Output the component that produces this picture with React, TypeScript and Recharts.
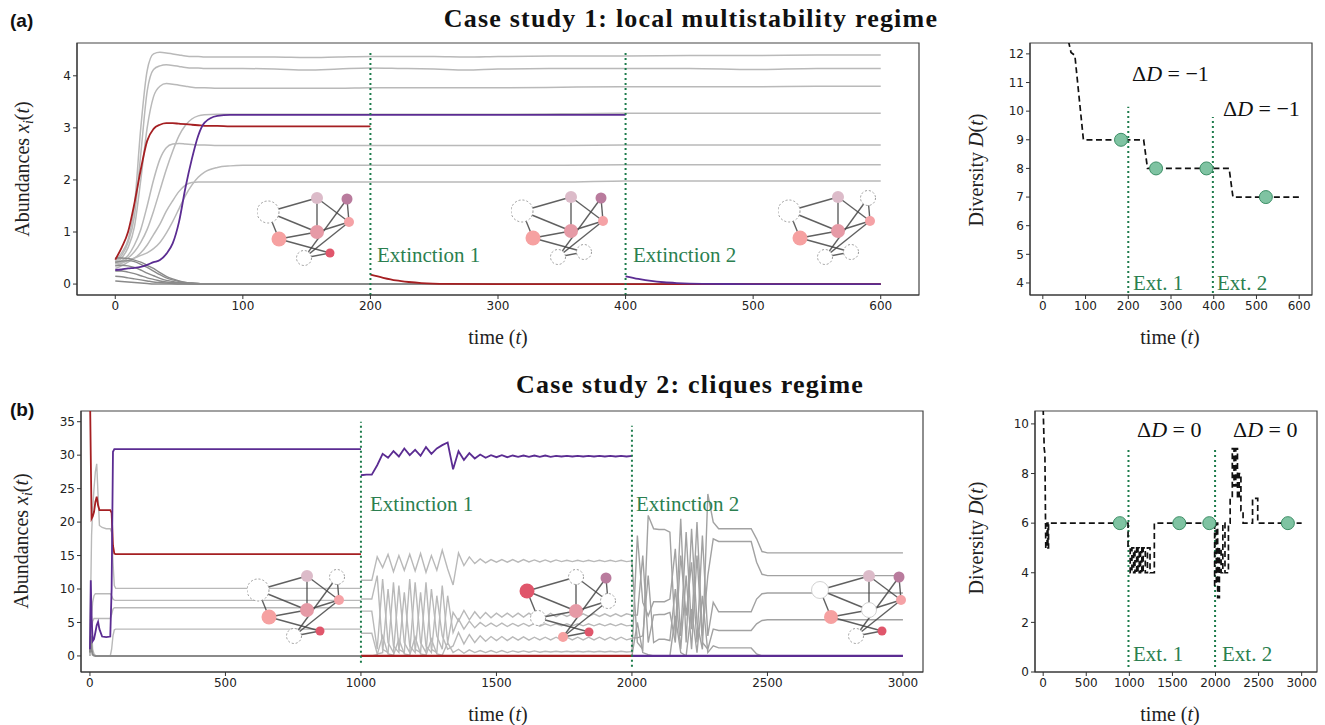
import React from 'react';
import { ComposedChart, Line, Scatter, XAxis, YAxis, ReferenceLine, ReferenceArea } from 'recharts';

const GRAY = '#b9b9b9';
const MID_GRAY = '#a2a2a2';
const DARK_GRAY = '#8a8a8a';
const RED = '#a51f22';
const PURPLE = '#5b2c92';
const GREEN = '#1e7c4c';
const GREEN_TEXT = '#2b7f50';
const SERIF = 'Liberation Serif, serif';

// ---------- case study 1, abundances ----------
const tA = [0, 5, 10, 15, 20, 25, 30, 35, 40, 45, 50, 55, 60, 65, 70, 80, 90, 100, 125, 150, 175, 200, 225, 250, 275, 300, 350, 400, 450, 500, 550, 600];
const aTop = [0.45, 0.6, 0.85, 1.5, 3.0, 4.1, 4.42, 4.45, 4.44, 4.42, 4.4, 4.38, 4.37, 4.37, 4.36, 4.36, 4.36, 4.36, 4.36, 4.35, 4.36, 4.37, 4.37, 4.37, 4.36, 4.37, 4.38, 4.38, 4.39, 4.39, 4.4, 4.4];
const aSecond = [0.42, 0.55, 0.8, 1.3, 2.5, 3.7, 4.12, 4.19, 4.21, 4.2, 4.18, 4.16, 4.15, 4.15, 4.14, 4.14, 4.14, 4.14, 4.13, 4.11, 4.13, 4.15, 4.14, 4.13, 4.11, 4.13, 4.14, 4.14, 4.14, 4.12, 4.14, 4.14];
const aThird = [0.4, 0.5, 0.7, 1.1, 2.0, 3.0, 3.6, 3.8, 3.85, 3.84, 3.82, 3.8, 3.78, 3.77, 3.77, 3.76, 3.76, 3.76, 3.76, 3.76, 3.76, 3.77, 3.77, 3.77, 3.77, 3.77, 3.78, 3.79, 3.79, 3.79, 3.8, 3.8];
const aG325 = [0.38, 0.42, 0.5, 0.62, 0.8, 1.05, 1.4, 1.8, 2.2, 2.55, 2.85, 3.05, 3.17, 3.23, 3.25, 3.26, 3.26, 3.26, 3.26, 3.26, 3.26, 3.26, 3.26, 3.26, 3.26, 3.26, 3.27, 3.28, 3.28, 3.28, 3.28, 3.28];
const aG267 = [0.4, 0.45, 0.55, 0.75, 1.05, 1.5, 2.0, 2.4, 2.62, 2.69, 2.7, 2.69, 2.68, 2.67, 2.67, 2.66, 2.66, 2.66, 2.66, 2.66, 2.66, 2.66, 2.66, 2.66, 2.66, 2.66, 2.66, 2.67, 2.67, 2.67, 2.67, 2.67];
const aG227 = [0.35, 0.4, 0.45, 0.5, 0.55, 0.6, 0.68, 0.8, 0.98, 1.2, 1.45, 1.7, 1.9, 2.05, 2.15, 2.24, 2.27, 2.28, 2.28, 2.28, 2.28, 2.28, 2.28, 2.28, 2.28, 2.28, 2.28, 2.29, 2.29, 2.29, 2.29, 2.29];
const aG196 = [0.3, 0.35, 0.42, 0.5, 0.6, 0.75, 0.95, 1.15, 1.4, 1.6, 1.78, 1.9, 1.95, 1.96, 1.96, 1.96, 1.96, 1.96, 1.96, 1.96, 1.96, 1.96, 1.96, 1.96, 1.96, 1.96, 1.96, 1.98, 1.98, 1.98, 1.98, 1.98];

const tAz = [0, 5, 10, 15, 20, 25, 30, 35, 40, 45, 50, 55, 60, 65, 70, 80, 90, 100, 600];
const aZero1 = [0.5, 0.5, 0.49, 0.46, 0.42, 0.36, 0.3, 0.22, 0.15, 0.1, 0.06, 0.03, 0.02, 0.01, 0, 0, 0, 0, 0];
const aZero2 = [0.42, 0.44, 0.45, 0.43, 0.38, 0.32, 0.25, 0.18, 0.12, 0.08, 0.05, 0.03, 0.02, 0.01, 0, 0, 0, 0, 0];
const aZero3 = [0.35, 0.36, 0.35, 0.32, 0.27, 0.21, 0.16, 0.11, 0.07, 0.05, 0.03, 0.02, 0.01, 0, 0, 0, 0, 0, 0];
const aZero4 = [0.25, 0.25, 0.23, 0.2, 0.16, 0.12, 0.09, 0.06, 0.04, 0.03, 0.02, 0.01, 0, 0, 0, 0, 0, 0, 0];
const aZero5 = [0.15, 0.14, 0.12, 0.1, 0.08, 0.06, 0.04, 0.03, 0.02, 0.01, 0, 0, 0, 0, 0, 0, 0, 0, 0];
const aZero6 = [0.06, 0.05, 0.04, 0.03, 0.02, 0.01, 0, 0, 0, 0, 0, 0, 0, 0, 0, 0, 0, 0, 0];

const tARed1 = [0, 5, 10, 15, 20, 25, 30, 35, 40, 45, 50, 55, 60, 65, 70, 80, 90, 100, 125, 150, 175, 200];
const aRed1 = [0.47, 0.7, 1.0, 1.55, 2.2, 2.75, 2.98, 3.06, 3.09, 3.09, 3.08, 3.07, 3.06, 3.05, 3.04, 3.04, 3.03, 3.03, 3.03, 3.03, 3.03, 3.03];
const tARed2 = [200, 210, 220, 230, 240, 260, 300, 400, 600];
const aRed2 = [0.18, 0.12, 0.07, 0.04, 0.02, 0.005, 0, 0, 0];
const tAPur1 = [0, 5, 10, 15, 20, 25, 30, 35, 40, 45, 50, 55, 60, 65, 70, 80, 90, 100, 200, 300, 400];
const aPur1 = [0.27, 0.28, 0.3, 0.31, 0.33, 0.37, 0.42, 0.46, 0.58, 0.78, 1.2, 1.85, 2.4, 2.85, 3.1, 3.23, 3.25, 3.25, 3.25, 3.25, 3.25];
const tAPur2 = [400, 410, 420, 430, 440, 460, 500, 600];
const aPur2 = [0.15, 0.1, 0.06, 0.035, 0.02, 0.005, 0, 0];

// ---------- case study 1, diversity ----------
const aDivT = [60, 66, 75, 95, 236, 245, 436, 445, 600];
const aDivV = [12.45, 12.05, 11.95, 9.0, 9.0, 8.0, 8.0, 7.0, 7.0];
const aCircT = [183, 265, 383, 522];
const aCircV = [9, 8, 8, 7];

// ---------- case study 2, abundances ----------
const tB1 = [0, 3, 6, 10, 15, 20, 25, 30, 35, 45, 60, 75, 80, 85, 90, 95, 100, 300, 500, 700, 900, 1000];
const bRed1 = [40, 30, 20.5, 20.8, 21.5, 23.0, 23.8, 22.5, 21.8, 21.8, 21.8, 21.8, 21.4, 16.5, 15.3, 15.2, 15.2, 15.2, 15.2, 15.2, 15.2, 15.2];
const bPur1 = [1.0, 11.3, 6.0, 2.2, 2.5, 3.5, 4.6, 5.1, 4.0, 2.9, 2.8, 2.9, 10.0, 30.5, 30.9, 30.9, 30.9, 30.9, 30.9, 30.9, 30.9, 30.9];
const bG1 = [0, 10, 18, 22, 25, 27.5, 28.7, 24, 19.5, 19.2, 19.0, 19.0, 18.5, 14.0, 10.5, 10.1, 10.1, 10.1, 10.1, 10.1, 10.1, 10.1];
const bG2 = [0, 3, 6, 8, 9, 9.3, 9.3, 9.3, 9.3, 9.3, 9.3, 9.3, 9.0, 8.5, 8.35, 8.3, 8.3, 8.3, 8.3, 8.3, 8.3, 8.3];
const bG3 = [0, 2, 4, 5.2, 5.6, 5.6, 5.6, 5.6, 5.6, 5.6, 5.6, 5.6, 6.2, 7.0, 7.2, 7.2, 7.2, 7.2, 7.2, 7.2, 7.2, 7.2];
const bG4 = [0, 8, 4, 1, 0.3, 0.1, 0, 0, 0, 0, 0, 0, 1.0, 3.0, 3.9, 4.0, 4.0, 4.0, 4.0, 4.0, 4.0, 4.0];
const bZero1 = [0.5, 3, 1, 0.2, 0.05, 0, 0, 0, 0, 0, 0, 0, 0, 0, 0, 0, 0, 0, 0, 0, 0, 0];

const tB2 = [1000, 1020, 1040, 1060, 1080, 1100, 1120, 1140, 1160, 1180,
  1200, 1220, 1240, 1260, 1280, 1300, 1320, 1340, 1360, 1380,
  1400, 1420, 1440, 1460, 1480, 1500, 1520, 1540, 1560, 1580,
  1600, 1620, 1640, 1660, 1680, 1700, 1720, 1740, 1760, 1780,
  1800, 1820, 1840, 1860, 1880, 1900, 1920, 1940, 1960, 1980, 2000];
const bPur2 = [27.0, 27.1, 27.1, 28.5, 30.2, 29.6, 30.6, 29.8, 31.0, 30.0,
  30.8, 29.9, 31.2, 30.2, 31.0, 31.5, 31.9, 27.9, 30.6, 29.3,
  30.3, 29.5, 30.1, 29.6, 30.0, 29.7, 30.0, 29.7, 29.95, 29.75,
  29.95, 29.75, 29.95, 29.75, 29.95, 29.75, 29.9, 29.8, 29.9, 29.8,
  29.9, 29.8, 29.9, 29.8, 29.9, 29.8, 29.9, 29.8, 29.9, 29.8, 29.9];
const bH1 = [11.3, 11.3, 11.3, 14.8, 13.2, 15.2, 12.6, 15.0, 12.8, 15.2,
  12.7, 15.3, 12.5, 15.0, 12.8, 15.8, 13.0, 10.6, 15.4, 13.5,
  14.8, 13.8, 14.5, 13.9, 14.4, 14.0, 14.4, 14.0, 14.4, 14.0,
  14.4, 14.05, 14.35, 14.05, 14.35, 14.05, 14.35, 14.1, 14.3, 14.1,
  14.3, 14.1, 14.3, 14.1, 14.3, 14.1, 14.3, 14.1, 14.3, 14.1, 14.2];
const bS1 = [8.5, 8.5, 8.5, 12.0, 1.0, 0.5, 11.0, 1.0, 0.5, 11.5,
  1.0, 0.5, 11.0, 1.0, 0.5, 10.5, 2.0, 6.5, 5.2, 6.8,
  5.4, 6.6, 5.6, 6.5, 5.7, 6.4, 5.8, 6.4, 5.8, 6.4,
  5.8, 6.4, 5.8, 6.35, 5.85, 6.35, 5.85, 6.3, 5.9, 6.3,
  5.9, 6.3, 5.9, 6.3, 5.9, 6.3, 5.9, 6.3, 5.9, 6.3, 6.1];
const bS2 = [6.7, 6.7, 6.7, 1.0, 11.5, 2.0, 0.5, 10.5, 2.0, 0.5,
  11.0, 2.0, 0.5, 10.0, 3.0, 1.0, 9.0, 3.5, 5.5, 4.0,
  5.2, 4.2, 5.0, 4.4, 4.9, 4.4, 4.9, 4.4, 4.85, 4.45,
  4.85, 4.45, 4.85, 4.45, 4.8, 4.5, 4.8, 4.5, 4.8, 4.5,
  4.8, 4.5, 4.8, 4.5, 4.8, 4.5, 4.8, 4.5, 4.8, 4.5, 4.6];
const bS3 = [3.4, 3.4, 3.4, 0.3, 0.5, 10.0, 1.5, 0.5, 9.5, 1.5,
  0.5, 9.5, 1.5, 0.5, 9.0, 3.0, 1.0, 1.5, 3.5, 1.8,
  3.2, 2.0, 3.0, 2.2, 2.9, 2.3, 2.9, 2.3, 2.85, 2.35,
  2.85, 2.35, 2.8, 2.4, 2.8, 2.4, 2.8, 2.4, 2.8, 2.4,
  2.8, 2.4, 2.8, 2.4, 2.8, 2.4, 2.8, 2.4, 2.8, 2.4, 2.6];
const bS4 = [0, 0, 0, 0.2, 3.0, 0.3, 0.1, 2.5, 0.3, 0.1,
  2.8, 0.3, 0.1, 2.5, 0.3, 0.1, 2.0, 0.5, 1.0, 0.4,
  0.9, 0.5, 0.8, 0.5, 0.8, 0.5, 0.8, 0.5, 0.75, 0.55,
  0.75, 0.55, 0.75, 0.55, 0.7, 0.6, 0.7, 0.6, 0.7, 0.6,
  0.7, 0.6, 0.7, 0.6, 0.7, 0.6, 0.7, 0.6, 0.7, 0.6, 0.65];

const tB3 = [2000, 2020, 2040, 2060, 2080, 2100, 2120, 2140, 2160, 2180,
  2200, 2220, 2240, 2260, 2280, 2300, 2320, 2340, 2360, 2380,
  2400, 2420, 2440, 2460, 2480, 2500, 2600, 2700, 2800, 2900, 3000];
const bP1 = [14.1, 2.0, 1.0, 21.0, 19.0, 18.9, 18.9, 18.5, 3.0, 20.5,
  2.0, 19.0, 5.0, 1.0, 24.2, 20.0, 19.0, 19.0, 19.0, 19.0,
  19.0, 19.0, 19.0, 17.5, 15.6, 15.4, 15.4, 15.4, 15.4, 15.4, 15.4];
const bP2 = [0.5, 18.0, 8.0, 6.0, 8.1, 8.1, 8.1, 8.5, 16.0, 3.0,
  18.5, 4.0, 20.0, 3.0, 12.0, 17.5, 17.1, 17.1, 17.1, 17.1,
  17.1, 17.1, 17.1, 14.0, 12.2, 12.0, 12.0, 12.0, 12.0, 12.0, 12.0];
const bP3 = [6.1, 6.1, 15.0, 2.0, 6.1, 6.2, 6.2, 6.5, 2.0, 15.0,
  6.0, 14.0, 2.0, 18.0, 3.0, 8.0, 6.6, 6.6, 6.6, 6.6,
  6.6, 6.6, 6.6, 8.5, 9.3, 9.4, 9.4, 9.4, 9.4, 9.4, 9.4];
const bP4 = [2.7, 2.7, 3.0, 12.0, 2.0, 2.5, 2.5, 2.3, 10.0, 1.0,
  12.0, 1.0, 15.0, 2.0, 1.0, 4.0, 3.8, 3.8, 3.8, 3.8,
  3.8, 3.8, 3.8, 4.8, 5.3, 5.4, 5.4, 5.4, 5.4, 5.4, 5.4];
const bP5 = [0, 5.0, 0.5, 0.2, 0, 0, 0, 0, 6.0, 0.5,
  0, 7.0, 0.5, 9.0, 0.5, 1.5, 1.2, 1.2, 1.2, 1.2,
  1.2, 1.2, 1.2, 0.3, 0, 0, 0, 0, 0, 0, 0];

const tBRed2 = [1000, 2000];
const bRed2 = [0, 0];
const tBPur3 = [2000, 3000];
const bPur3 = [0, 0];

// ---------- case study 2, diversity ----------
const bDivSteps: [number, number][] = [
  [0, 10.6], [12, 9.0], [20, 8.8], [30, 5.0], [45, 5.0], [45, 6.0], [55, 6.0], [55, 5.0], [62, 5.0], [62, 6.0],
  [985, 6.0], [985, 5.0], [1010, 5.0], [1010, 4.0], [1030, 4.0], [1030, 5.0], [1050, 5.0], [1050, 4.0],
  [1065, 4.0], [1065, 5.0], [1085, 5.0], [1085, 4.0], [1100, 4.0], [1100, 5.0], [1115, 5.0], [1115, 4.0],
  [1130, 4.0], [1130, 5.0], [1145, 5.0], [1145, 4.0], [1160, 4.0], [1160, 5.0], [1185, 5.0], [1185, 4.0],
  [1210, 4.0], [1210, 5.0], [1240, 5.0], [1240, 4.0], [1290, 4.0], [1290, 6.0],
  [1990, 6.0], [1990, 3.5], [2010, 3.5], [2010, 6.0], [2025, 6.0], [2025, 3.0], [2045, 3.0], [2045, 5.0],
  [2065, 5.0], [2065, 4.0], [2085, 4.0], [2085, 6.0], [2110, 6.0], [2110, 4.0], [2150, 4.0], [2150, 6.0],
  [2170, 6.0], [2170, 7.0], [2195, 7.0], [2195, 9.0], [2215, 9.0], [2215, 7.5], [2235, 7.5], [2235, 9.0],
  [2255, 9.0], [2255, 7.0], [2275, 7.0], [2275, 8.0], [2295, 8.0], [2295, 6.5], [2320, 6.5], [2320, 6.0],
  [2430, 6.0], [2430, 7.0], [2490, 7.0], [2490, 6.0], [3000, 6.0],
];
const bCircT = [890, 1580, 1928, 2840];
const bCircV = [6, 6, 6, 6];

// ---------- network insets ----------
const nodeX = [11, 60, 90, 92, 60, 22, 47, 73];
const nodeY = [26, 12, 13, 36, 46, 53, 72, 67];
const edges = [[0, 1], [0, 4], [0, 5], [1, 4], [1, 3], [2, 3], [2, 6], [4, 3], [5, 4], [5, 7], [6, 7], [6, 3]];
const PINK_L = '#dcbbc9';
const MAUVE = '#b97b9d';
const PINK = '#f5a2a6';
const PINK_M = '#e69aa6';
const SALMON = '#f6a1a1';
const RED_N = '#e0566b';
const insetA1 = ['empty', PINK_L, MAUVE, PINK, PINK_M, SALMON, 'empty', RED_N];
const insetA2 = ['empty', PINK_L, MAUVE, PINK, PINK_M, SALMON, 'empty', 'empty'];
const insetA3 = ['empty', PINK_L, 'empty', PINK, PINK_M, SALMON, 'empty', 'empty'];
const insetB1 = ['empty', PINK_L, 'empty', PINK, PINK_M, SALMON, 'empty', RED_N];
const insetB2 = [RED_N, 'empty', MAUVE, 'empty', PINK_M, 'empty', SALMON, RED_N];
const insetB3 = ['white', PINK_L, MAUVE, PINK, 'white', SALMON, 'empty', RED_N];
const radA1 = [11, 6, 5.5, 5, 7, 7.5, 7.5, 4.5];
const radA2 = [11, 6, 5.5, 5, 7, 7.5, 7.5, 7.5];
const radA3 = [11, 6, 7.5, 5, 7, 7.5, 7.5, 7.5];
const radB1 = [11, 6, 7.5, 5, 7, 7.5, 7.5, 4.5];
const radB2 = [7.5, 7.5, 5.5, 7.5, 7, 7.5, 5, 4.5];
const radB3 = [8.5, 6, 5.5, 5, 7.5, 7, 7.5, 4.5];

const pts = (ts: number[], vs: number[]) => ts.map((t, i) => ({ t, v: vs[i] }));

const tickStyle = { fontSize: 12, fill: '#222', fontFamily: 'DejaVu Sans, sans-serif' };

const greenDot = (p: any) => (
  <circle cx={p.cx} cy={p.cy} r={6.5} fill="#7fc3a2" stroke="#3d8f67" strokeWidth={1} />
);

const nodeShape = (p: any) => {
  const { cx, cy, payload } = p;
  if (payload.col === 'empty') {
    return <circle cx={cx} cy={cy} r={payload.r} fill="#fff" stroke="#9a9a9a" strokeWidth={1} strokeDasharray="2 2" />;
  }
  if (payload.col === 'white') {
    return <circle cx={cx} cy={cy} r={payload.r} fill="#fff" stroke="#d2d2d2" strokeWidth={1} />;
  }
  return <circle cx={cx} cy={cy} r={payload.r} fill={payload.col} />;
};

function Inset({ left, top, cols, radii }: { left: number; top: number; cols: string[]; radii: number[] }) {
  const nodes = nodeX.map((x, i) => ({ x, y: nodeY[i], col: cols[i], r: radii[i] }));
  return (
    <div style={{ position: 'absolute', left, top }}>
      <ComposedChart width={104} height={86} margin={{ top: 0, right: 0, bottom: 0, left: 0 }}>
        <XAxis type="number" dataKey="x" domain={[0, 104]} hide />
        <YAxis type="number" dataKey="y" domain={[0, 86]} reversed hide />
        {edges.map(([a, b], k) => (
          <Line
            key={k}
            data={[{ x: nodeX[a], y: nodeY[a] }, { x: nodeX[b], y: nodeY[b] }]}
            dataKey="y"
            stroke="#444"
            strokeWidth={1.4}
            strokeOpacity={0.85}
            dot={false}
            isAnimationActive={false}
          />
        ))}
        <Scatter data={nodes} dataKey="y" shape={nodeShape} isAnimationActive={false} />
      </ComposedChart>
    </div>
  );
}

type Series = { t: number[]; v: number[]; color: string; w: number };

const aSeries: Series[] = [
  { t: tA, v: aTop, color: GRAY, w: 1.5 },
  { t: tA, v: aSecond, color: GRAY, w: 1.5 },
  { t: tA, v: aThird, color: GRAY, w: 1.5 },
  { t: tA, v: aG325, color: GRAY, w: 1.5 },
  { t: tA, v: aG267, color: GRAY, w: 1.5 },
  { t: tA, v: aG227, color: GRAY, w: 1.5 },
  { t: tA, v: aG196, color: GRAY, w: 1.5 },
  { t: tAz, v: aZero1, color: DARK_GRAY, w: 1.4 },
  { t: tAz, v: aZero2, color: DARK_GRAY, w: 1.4 },
  { t: tAz, v: aZero3, color: DARK_GRAY, w: 1.4 },
  { t: tAz, v: aZero4, color: DARK_GRAY, w: 1.4 },
  { t: tAz, v: aZero5, color: DARK_GRAY, w: 1.4 },
  { t: tAz, v: aZero6, color: DARK_GRAY, w: 1.4 },
  { t: tARed1, v: aRed1, color: RED, w: 1.8 },
  { t: tARed2, v: aRed2, color: RED, w: 1.8 },
  { t: tAPur1, v: aPur1, color: PURPLE, w: 1.8 },
  { t: tAPur2, v: aPur2, color: PURPLE, w: 1.8 },
];

const bSeries: Series[] = [
  { t: tB1, v: bG1, color: GRAY, w: 1.4 },
  { t: tB1, v: bG2, color: GRAY, w: 1.4 },
  { t: tB1, v: bG3, color: GRAY, w: 1.4 },
  { t: tB1, v: bG4, color: GRAY, w: 1.4 },
  { t: tB1, v: bZero1, color: DARK_GRAY, w: 2 },
  { t: tB2, v: bH1, color: GRAY, w: 1.4 },
  { t: tB2, v: bS1, color: GRAY, w: 1.4 },
  { t: tB2, v: bS2, color: GRAY, w: 1.4 },
  { t: tB2, v: bS3, color: GRAY, w: 1.4 },
  { t: tB2, v: bS4, color: GRAY, w: 1.4 },
  { t: tB3, v: bP1, color: MID_GRAY, w: 1.4 },
  { t: tB3, v: bP2, color: MID_GRAY, w: 1.4 },
  { t: tB3, v: bP3, color: MID_GRAY, w: 1.4 },
  { t: tB3, v: bP4, color: MID_GRAY, w: 1.4 },
  { t: tB3, v: bP5, color: MID_GRAY, w: 1.4 },
  { t: tB1, v: bRed1, color: RED, w: 1.8 },
  { t: tBRed2, v: bRed2, color: RED, w: 2.2 },
  { t: tB1, v: bPur1, color: PURPLE, w: 1.8 },
  { t: tB2, v: bPur2, color: PURPLE, w: 1.8 },
  { t: tBPur3, v: bPur3, color: PURPLE, w: 2.2 },
];

const greenSeg = (x: number, y1: number, y2: number, key: string) => (
  <ReferenceLine
    key={key}
    segment={[{ x, y: y1 }, { x, y: y2 }]}
    stroke={GREEN}
    strokeWidth={2}
    strokeDasharray="2 3"
    ifOverflow="visible"
  />
);

const frame = (x: number[], y: number[]) => (
  <ReferenceArea x1={x[0]} x2={x[1]} y1={y[0]} y2={y[1]} fill="none" fillOpacity={0} stroke="#444" strokeWidth={1.2} ifOverflow="visible" />
);

function AbundanceChart({ width, height, margin, xDomain, yDomain, xTicks, yTicks, series, curve, greens }: any) {
  return (
    <ComposedChart width={width} height={height} margin={margin}>
      <XAxis type="number" dataKey="t" domain={xDomain} allowDataOverflow ticks={xTicks} tickSize={4} tick={tickStyle} stroke="#333" height={30} interval={0} />
      <YAxis type="number" dataKey="v" domain={yDomain} allowDataOverflow ticks={yTicks} tickSize={4} tick={tickStyle} stroke="#333" width={57} interval={0} />
      {frame(xDomain, yDomain)}
      {series.map((s: Series, i: number) => (
        <Line key={i} data={pts(s.t, s.v)} dataKey="v" type={curve} stroke={s.color} strokeWidth={s.w} dot={false} isAnimationActive={false} />
      ))}
      {greens.map((g: number[], i: number) => greenSeg(g[0], g[1], g[2], 'g' + i))}
    </ComposedChart>
  );
}

function DiversityChart({ width, height, margin, xDomain, yDomain, xTicks, yTicks, steps, circles, greens }: any) {
  return (
    <ComposedChart width={width} height={height} margin={margin}>
      <XAxis type="number" dataKey="t" domain={xDomain} allowDataOverflow ticks={xTicks} tickSize={4} tick={tickStyle} stroke="#333" height={30} interval={0} />
      <YAxis type="number" dataKey="v" domain={yDomain} allowDataOverflow ticks={yTicks} tickSize={4} tick={tickStyle} stroke="#333" width={50} interval={0} />
      {frame(xDomain, yDomain)}
      {greens.map((g: number[], i: number) => greenSeg(g[0], g[1], g[2], 'g' + i))}
      <Line data={steps} dataKey="v" type="linear" stroke="#111" strokeWidth={1.7} strokeDasharray="6 3.5" dot={false} isAnimationActive={false} />
      <Scatter data={circles} dataKey="v" shape={greenDot} isAnimationActive={false} />
    </ComposedChart>
  );
}

const Overlay = () => (
  <svg width={1325} height={725} style={{ position: 'absolute', left: 0, top: 0, pointerEvents: 'none' }}>
    <g fontFamily="Liberation Sans, Arial, sans-serif" fontWeight="bold" fontSize={19} fill="#111">
      <text x={10} y={27}>(a)</text>
      <text x={10} y={416}>(b)</text>
    </g>
    <g fontFamily={SERIF} fontWeight="bold" fontSize={26} letterSpacing={1.2} fill="#111" textAnchor="middle">
      <text x={691} y={27}>Case study 1: local multistability regime</text>
      <text x={690} y={393}>Case study 2: cliques regime</text>
    </g>
    <g fontFamily={SERIF} fontSize={20} fill="#222" textAnchor="middle">
      <text transform="rotate(-90 23 169)" x={23} y={169} dy={6}>
        Abundances <tspan fontStyle="italic">x</tspan>
        <tspan fontStyle="italic" fontSize={14} dy={4}>i</tspan>
        <tspan dy={-4}>(</tspan><tspan fontStyle="italic">t</tspan>)
      </text>
      <text transform="rotate(-90 22 541)" x={22} y={541} dy={6}>
        Abundances <tspan fontStyle="italic">x</tspan>
        <tspan fontStyle="italic" fontSize={14} dy={4}>i</tspan>
        <tspan dy={-4}>(</tspan><tspan fontStyle="italic">t</tspan>)
      </text>
      <text transform="rotate(-90 977 170)" x={977} y={170} dy={6}>
        Diversity <tspan fontStyle="italic">D</tspan>(<tspan fontStyle="italic">t</tspan>)
      </text>
      <text transform="rotate(-90 977 538)" x={977} y={538} dy={6}>
        Diversity <tspan fontStyle="italic">D</tspan>(<tspan fontStyle="italic">t</tspan>)
      </text>
      <text x={498} y={344}>time  (<tspan fontStyle="italic">t</tspan>)</text>
      <text x={1170} y={344}>time  (<tspan fontStyle="italic">t</tspan>)</text>
      <text x={498} y={721}>time  (<tspan fontStyle="italic">t</tspan>)</text>
      <text x={1170} y={721}>time  (<tspan fontStyle="italic">t</tspan>)</text>
    </g>
    <g fontFamily={SERIF} fontSize={21} fill={GREEN_TEXT}>
      <text x={377} y={262}>Extinction 1</text>
      <text x={633} y={262}>Extinction 2</text>
      <text x={370} y={511}>Extinction 1</text>
      <text x={636} y={511}>Extinction 2</text>
      <text x={1133} y={290}>Ext. 1</text>
      <text x={1217} y={290}>Ext. 2</text>
      <text x={1133} y={661}>Ext. 1</text>
      <text x={1222} y={661}>Ext. 2</text>
    </g>
    <g fontFamily={SERIF} fontSize={22} fill="#111">
      <text x={1132} y={81}>Δ<tspan fontStyle="italic">D</tspan> = −1</text>
      <text x={1223} y={116}>Δ<tspan fontStyle="italic">D</tspan> = −1</text>
      <text x={1137} y={437}>Δ<tspan fontStyle="italic">D</tspan> = 0</text>
      <text x={1233} y={437}>Δ<tspan fontStyle="italic">D</tspan> = 0</text>
    </g>
  </svg>
);

export default function App() {
  const aSteps = pts(aDivT, aDivV);
  const bSteps = bDivSteps.map(([t, v]) => ({ t, v }));
  return (
    <div style={{ position: 'absolute', left: 0, top: 0, width: 1325, height: 725, background: '#fff', overflow: 'hidden' }}>
      <div style={{ position: 'absolute', left: 0, top: 0 }}>
        <AbundanceChart
          width={930}
          height={340}
          margin={{ top: 43, right: 11, bottom: 15, left: 20 }}
          xDomain={[-30, 630]}
          yDomain={[-0.21, 4.63]}
          xTicks={[0, 100, 200, 300, 400, 500, 600]}
          yTicks={[0, 1, 2, 3, 4]}
          series={aSeries}
          curve="monotone"
          greens={[[200, -0.21, 4.48], [400, -0.21, 4.48]]}
        />
      </div>
      <div style={{ position: 'absolute', left: 960, top: 0 }}>
        <DiversityChart
          width={362}
          height={340}
          margin={{ top: 43, right: 10, bottom: 15, left: 20 }}
          xDomain={[-30, 630]}
          yDomain={[3.58, 12.38]}
          xTicks={[0, 100, 200, 300, 400, 500, 600]}
          yTicks={[4, 5, 6, 7, 8, 9, 10, 11, 12]}
          steps={aSteps}
          circles={pts(aCircT, aCircV)}
          greens={[[200, 3.65, 10.15], [398, 3.65, 9.8]]}
        />
      </div>
      <div style={{ position: 'absolute', left: 0, top: 360 }}>
        <AbundanceChart
          width={934}
          height={365}
          margin={{ top: 51, right: 11, bottom: 23, left: 24 }}
          xDomain={[-33, 3074]}
          yDomain={[-2.4, 36.6]}
          xTicks={[0, 500, 1000, 1500, 2000, 2500, 3000]}
          yTicks={[0, 5, 10, 15, 20, 25, 30, 35]}
          series={bSeries}
          curve="linear"
          greens={[[1000, -1.0, 35.0], [2000, -1.6, 34.4]]}
        />
      </div>
      <div style={{ position: 'absolute', left: 960, top: 360 }}>
        <DiversityChart
          width={365}
          height={365}
          margin={{ top: 51, right: 8, bottom: 23, left: 25 }}
          xDomain={[-95, 3178]}
          yDomain={[0, 10.52]}
          xTicks={[0, 500, 1000, 1500, 2000, 2500, 3000]}
          yTicks={[0, 2, 4, 6, 8, 10]}
          steps={bSteps}
          circles={pts(bCircT, bCircV)}
          greens={[[990, 0.2, 8.95], [1995, 0.2, 8.95]]}
        />
      </div>
      <Inset left={257} top={186} cols={insetA1} radii={radA1} />
      <Inset left={511} top={185} cols={insetA2} radii={radA2} />
      <Inset left={778} top={185} cols={insetA3} radii={radA3} />
      <Inset left={247} top={564} cols={insetB1} radii={radB1} />
      <Inset left={516} top={565} cols={insetB2} radii={radB2} />
      <Inset left={809} top={564} cols={insetB3} radii={radB3} />
      <Overlay />
    </div>
  );
}
